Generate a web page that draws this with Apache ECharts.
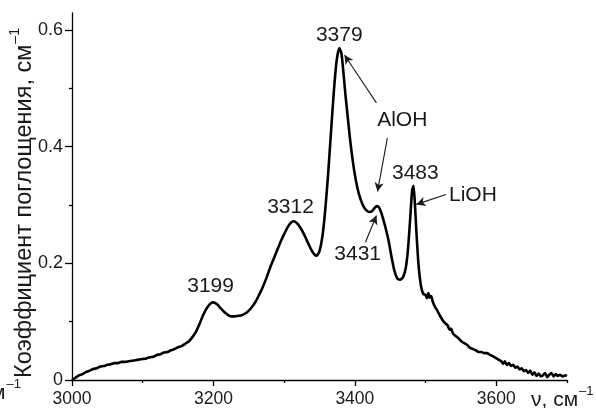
<!DOCTYPE html>
<html>
<head>
<meta charset="utf-8">
<script src="https://cdn.jsdelivr.net/npm/echarts@6/dist/echarts.min.js"></script>
<style>
  html, body { margin: 0; padding: 0; background: #fff; }
  #chart { width: 596px; height: 408px; }
</style>
</head>
<body>
<div id="chart"></div>
<script>
// IR absorption spectrum: wavenumber (cm^-1) and absorption coefficient (cm^-1)
const wavenumber = [
  3000, 3005, 3010, 3015, 3020, 3025, 3030, 3035, 3040, 3045,
  3050, 3055, 3060, 3065, 3070, 3075, 3080, 3085, 3090, 3095,
  3100, 3105, 3110, 3115, 3120, 3125, 3130, 3135, 3140, 3145,
  3150, 3155, 3160, 3165, 3170, 3175, 3180, 3185, 3190, 3195,
  3199, 3205, 3210, 3215, 3220, 3225, 3230, 3235, 3240, 3245,
  3250, 3255, 3260, 3265, 3270, 3275, 3280, 3285, 3290, 3295,
  3300, 3305, 3310, 3313, 3318, 3323, 3328, 3333, 3338, 3343,
  3346, 3350, 3354, 3358, 3362, 3366, 3370, 3374, 3378, 3381,
  3384, 3387, 3390, 3393, 3396, 3400, 3404, 3408, 3412, 3416,
  3420, 3424, 3428, 3431, 3434, 3437, 3440, 3444, 3448, 3452,
  3456, 3460, 3464, 3468, 3472, 3475, 3478, 3481, 3483, 3485,
  3487, 3489, 3491, 3494, 3497, 3500, 3502, 3504, 3506, 3508,
  3510, 3513, 3516, 3520, 3524, 3528, 3531, 3534, 3536, 3539,
  3543, 3547, 3551, 3555, 3559, 3563, 3567, 3571, 3575, 3579,
  3583, 3587, 3591, 3595, 3599, 3603, 3607, 3610, 3612, 3615,
  3618, 3621, 3624, 3627, 3630, 3633, 3636, 3639, 3642, 3645,
  3648, 3651, 3654, 3657, 3660, 3663, 3666, 3669, 3672, 3675,
  3678, 3681, 3684, 3687, 3690, 3694, 3698, 3700
];
const absorbance = [
  0.000, 0.004, 0.008, 0.010, 0.014, 0.016, 0.019, 0.020, 0.023, 0.024,
  0.026, 0.027, 0.029, 0.029, 0.031, 0.031, 0.032, 0.033, 0.034, 0.035,
  0.036, 0.037, 0.039, 0.040, 0.043, 0.044, 0.047, 0.048, 0.051, 0.053,
  0.056, 0.058, 0.062, 0.066, 0.073, 0.082, 0.095, 0.110, 0.122, 0.130,
  0.133, 0.130, 0.123, 0.117, 0.112, 0.109, 0.109, 0.110, 0.111, 0.114,
  0.119, 0.126, 0.135, 0.147, 0.160, 0.175, 0.192, 0.207, 0.222, 0.237,
  0.250, 0.262, 0.270, 0.272, 0.269, 0.261, 0.250, 0.237, 0.224, 0.215,
  0.213, 0.221, 0.245, 0.290, 0.350, 0.420, 0.490, 0.545, 0.569, 0.560,
  0.525, 0.485, 0.450, 0.415, 0.385, 0.352, 0.327, 0.310, 0.298, 0.291,
  0.288, 0.289, 0.295, 0.298, 0.296, 0.288, 0.276, 0.258, 0.237, 0.210,
  0.187, 0.174, 0.172, 0.176, 0.192, 0.222, 0.272, 0.325, 0.333, 0.300,
  0.255, 0.215, 0.185, 0.158, 0.147, 0.146, 0.140, 0.149, 0.141, 0.144,
  0.135, 0.126, 0.120, 0.111, 0.103, 0.097, 0.094, 0.086, 0.088, 0.079,
  0.075, 0.071, 0.066, 0.063, 0.060, 0.055, 0.053, 0.051, 0.048, 0.048,
  0.046, 0.046, 0.043, 0.041, 0.038, 0.035, 0.032, 0.028, 0.032, 0.026,
  0.029, 0.024, 0.026, 0.021, 0.023, 0.018, 0.020, 0.015, 0.017, 0.012,
  0.016, 0.009, 0.013, 0.007, 0.011, 0.006, 0.008, 0.012, 0.005, 0.009,
  0.012, 0.006, 0.010, 0.007, 0.009, 0.006, 0.008, 0.007
];

// axis ticks
const xMajorTicks = [3000, 3200, 3400, 3600];
const xMinorTicks = [3100, 3300, 3500, 3700];
const yMajorTicks = [0, 0.2, 0.4, 0.6];
const yMinorTicks = [0.1, 0.3, 0.5];

// peak annotations: text and anchor in data coordinates
const peakTexts = ['3199', '3312', '3379', '3431', '3483', 'AlOH', 'LiOH'];
const peakAnchors = [
  [3196, 0.160], [3309, 0.297], [3378, 0.591], [3404, 0.215],
  [3485.5, 0.354], [3467, 0.445], [3567, 0.317]
];

// arrows: [tail, head] in data coordinates
const arrowLines = [
  [[3430.5, 0.475], [3385.3, 0.557]],
  [[3446, 0.415], [3432, 0.323]],
  [[3415, 0.236], [3430.5, 0.282]],
  [[3529, 0.318], [3487, 0.301]]
];

const FONT = "'Liberation Sans', Arial, sans-serif";
const INK = '#1a1a1a';

const chart = echarts.init(document.getElementById('chart'), null, { renderer: 'canvas' });

const spectrum = wavenumber.map((v, i) => [v, absorbance[i]]);

const axisLineStyle = { color: '#000', width: 1.3 };

chart.setOption({
  animation: false,
  backgroundColor: '#fff',
  grid: { left: 72, right: 29, top: 13, bottom: 27, containLabel: false },
  xAxis: [
    {
      type: 'value', min: 3000, max: 3700, interval: 100,
      axisLine: { show: true, onZero: false, lineStyle: axisLineStyle },
      axisTick: { show: true, inside: false, length: 6, customValues: xMajorTicks, lineStyle: axisLineStyle },
      axisLabel: {
        show: true, customValues: xMajorTicks, margin: 10, fontSize: 17.5, color: INK, fontFamily: FONT,
        formatter: v => String(v)
      },
      splitLine: { show: false }
    },
    {
      type: 'value', min: 3000, max: 3700, interval: 100, position: 'bottom',
      axisLine: { show: false, onZero: false },
      axisTick: { show: true, inside: false, length: 3, customValues: xMinorTicks, lineStyle: axisLineStyle },
      axisLabel: { show: false },
      splitLine: { show: false }
    }
  ],
  yAxis: [
    {
      type: 'value', min: 0, max: 0.629, interval: 0.1,
      axisLine: { show: true, onZero: false, lineStyle: axisLineStyle },
      axisTick: { show: true, inside: false, length: 7, customValues: yMajorTicks, lineStyle: axisLineStyle },
      axisLabel: {
        show: true, customValues: yMajorTicks, margin: 9, fontSize: 18, color: INK, fontFamily: FONT,
        formatter: v => String(Math.round(v * 10) / 10)
      },
      splitLine: { show: false }
    },
    {
      type: 'value', min: 0, max: 0.629, interval: 0.1, position: 'left',
      axisLine: { show: false, onZero: false },
      axisTick: { show: true, inside: false, length: 3, customValues: yMinorTicks, lineStyle: axisLineStyle },
      axisLabel: { show: false },
      splitLine: { show: false }
    }
  ],
  series: [
    {
      type: 'line',
      xAxisIndex: 0, yAxisIndex: 0,
      data: spectrum,
      showSymbol: false,
      smooth: 0.2,
      lineStyle: { color: '#000', width: 2.6 },
      markLine: {
        silent: true,
        symbol: ['none', 'arrow'],
        symbolSize: [7, 9],
        label: { show: false },
        lineStyle: { color: INK, width: 1.1, type: 'solid' },
        data: arrowLines.map(([a, b]) => [{ coord: a }, { coord: b }])
      }
    }
  ]
});

// text placed through the axes' scales
const texts = peakTexts.map((t, i) => {
  const [px, py] = chart.convertToPixel({ xAxisIndex: 0, yAxisIndex: 0 }, peakAnchors[i]);
  return {
    type: 'text', x: px, y: py,
    style: { text: t, fill: INK, font: `21px ${FONT}`, align: 'center', verticalAlign: 'middle' }
  };
});

function unitsRich(size, supSize) {
  return {
    b: { fontSize: size, fontFamily: FONT, fill: INK, color: INK, verticalAlign: 'bottom', lineHeight: size + 5 },
    s: { fontSize: supSize, fontFamily: FONT, fill: INK, color: INK, verticalAlign: 'top', lineHeight: size + 5, padding: [0, 0, 0, 1] }
  };
}

chart.setOption({
  graphic: [
    ...texts,
    {
      type: 'text', x: 22, y: 203, rotation: Math.PI / 2,
      style: {
        text: '{b|Коэффициент поглощения, см}{s|–1}',
        rich: unitsRich(23.5, 14), align: 'center', verticalAlign: 'middle'
      }
    },
    {
      type: 'text', x: 531, y: 398,
      style: { text: '{b|ν, см}{s|–1}', rich: unitsRich(21, 13), align: 'left', verticalAlign: 'middle' }
    },
    {
      type: 'text', x: 21, y: 391,
      style: { text: '{b|см}{s|–1}', rich: unitsRich(21, 13), align: 'right', verticalAlign: 'middle' }
    }
  ]
});
</script>
</body>
</html>
